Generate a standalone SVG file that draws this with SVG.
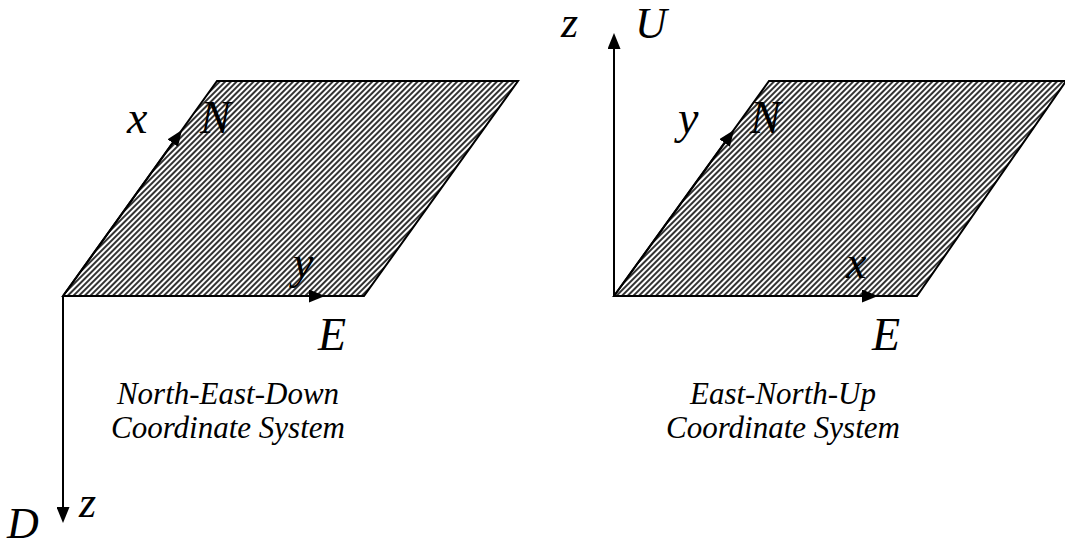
<svg xmlns="http://www.w3.org/2000/svg" width="1065" height="546" viewBox="0 0 1065 546">
<style>
.lbl{font-family:"Liberation Serif","Times New Roman",serif;font-style:italic;font-size:46px;fill:#000}
.cap{font-family:"Liberation Serif","Times New Roman",serif;font-style:italic;font-size:31px;fill:#000;text-anchor:middle}
.plane{fill:url(#hatch);stroke:#000;stroke-width:2}
.axis{stroke:#000;stroke-width:2;fill:none;marker-end:url(#arr)}
</style>
<defs>
<pattern id="hatch" patternUnits="userSpaceOnUse" width="4" height="4" patternTransform="rotate(45)">
<rect width="4" height="4" fill="#fff"/>
<rect width="2" height="4" fill="#333"/>
</pattern>
<marker id="arr" markerUnits="userSpaceOnUse" viewBox="0 0 16 13" markerWidth="16" markerHeight="13" refX="11" refY="6.5" orient="auto">
<path d="M0,0 L16,6.5 L0,13 z" fill="#000"/>
</marker>
</defs>
<rect width="1065" height="546" fill="#fff"/>
<g id="ned">
<polygon class="plane" points="63,296 217,81 518,81 364,296"/>
<text class="lbl" x="127" y="133">x</text>
<text class="lbl" x="200" y="133">N</text>
<text class="lbl" x="293" y="278">y</text>
<text class="lbl" x="318" y="350">E</text>
<text class="lbl" x="7" y="538" style="font-size:44px">D</text>
<text class="lbl" x="79" y="517" style="font-size:44px">z</text>
<text class="cap" x="228" y="404">North-East-Down</text>
<text class="cap" x="228" y="438">Coordinate System</text>
</g>
<g id="enu">
<polygon class="plane" points="614,296 769,81 1066,81 917,296"/>
<text class="lbl" x="561" y="37" style="font-size:44px">z</text>
<text class="lbl" x="635" y="38" style="font-size:44px">U</text>
<text class="lbl" x="678" y="133">y</text>
<text class="lbl" x="750" y="133">N</text>
<text class="lbl" x="846" y="278">x</text>
<text class="lbl" x="872" y="350">E</text>
<text class="cap" x="783" y="404">East-North-Up</text>
<text class="cap" x="783" y="438">Coordinate System</text>
</g>
<g id="connectors">
<path class="axis" d="M63,296 L179.1,134.1"/>
<path class="axis" d="M63,296 L320,296"/>
<path class="axis" d="M63,296 L63,518"/>
<path class="axis" d="M614,296 L731.1,134.1"/>
<path class="axis" d="M614,296 L873,296"/>
<path class="axis" d="M614,296 L614,38"/>
</g>
</svg>
